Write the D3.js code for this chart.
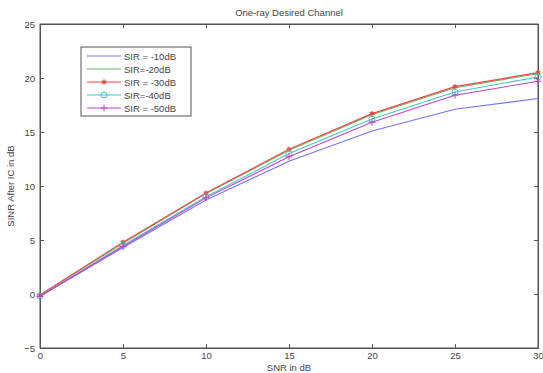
<!DOCTYPE html>
<html>
<head>
<meta charset="utf-8">
<script src="https://cdn.jsdelivr.net/npm/d3@7"></script>
<style>
  body { margin: 0; background: #fff; }
  text { font-family: "Liberation Sans", Arial, sans-serif; fill: #444; }
</style>
</head>
<body>
<div class="result"></div>
<script>
// Data
const snr = [0, 5, 10, 15, 20, 25, 30];
const sir10 = [-0.2, 4.3, 8.7, 12.3, 15.1, 17.1, 18.1];
const sir20 = [-0.1, 4.7, 9.3, 13.3, 16.6, 19.1, 20.4];
const sir30 = [-0.1, 4.8, 9.35, 13.4, 16.7, 19.2, 20.5];
const sir40 = [-0.2, 4.5, 9.0, 13.0, 16.2, 18.7, 20.1];
const sir50 = [-0.2, 4.4, 8.9, 12.7, 15.9, 18.4, 19.7];
const seriesNames = ['SIR = -10dB', 'SIR=-20dB', 'SIR = -30dB', 'SIR=-40dB', 'SIR = -50dB'];
const xTicks = [0, 5, 10, 15, 20, 25, 30];
const yTicks = [-5, 0, 5, 10, 15, 20, 25];

const series = [
  { name: seriesNames[0], values: sir10, color: '#7676ee', marker: 'none' },
  { name: seriesNames[1], values: sir20, color: '#62b862', marker: 'none' },
  { name: seriesNames[2], values: sir30, color: '#f04848', marker: 'star' },
  { name: seriesNames[3], values: sir40, color: '#44c6c6', marker: 'circle' },
  { name: seriesNames[4], values: sir50, color: '#c044c8', marker: 'plus' }
];

// Width and height
const w = 543;
const h = 373;
const padL = 40, padR = 538, padT = 24, padB = 348;

const xScale = d3.scaleLinear().domain([0, 30]).range([padL, padR]);
const yScale = d3.scaleLinear().domain([-5, 25]).range([padB, padT]);

const svg = d3.select('.result')
  .append('svg')
  .attr('width', w)
  .attr('height', h);

// Axes (ticks inward)
const xAxis = d3.axisBottom(xScale).tickValues(xTicks).tickSize(-4).tickPadding(4);
const yAxis = d3.axisLeft(yScale).tickValues(yTicks).tickSize(-4).tickPadding(5);

svg.append('g')
  .attr('transform', 'translate(0,' + padB + ')')
  .call(xAxis);
svg.append('g')
  .attr('transform', 'translate(' + padL + ',0)')
  .call(yAxis);
// mirrored ticks on top/right
svg.append('g')
  .attr('transform', 'translate(0,' + padT + ')')
  .call(d3.axisTop(xScale).tickValues(xTicks).tickSize(-4).tickFormat(''));
svg.append('g')
  .attr('transform', 'translate(' + padR + ',0)')
  .call(d3.axisRight(yScale).tickValues(yTicks).tickSize(-4).tickFormat(''));

svg.selectAll('.domain').attr('stroke', '#555');
svg.selectAll('.tick line').attr('stroke', '#555');
svg.selectAll('.tick text').style('font-size', '9.5px').attr('fill', '#444');

// Frame
svg.append('rect')
  .attr('x', padL).attr('y', padT)
  .attr('width', padR - padL).attr('height', padB - padT)
  .attr('fill', 'none').attr('stroke', '#555').attr('stroke-width', 1);

// Lines
const line = d3.line()
  .x(function (d, i) { return xScale(snr[i]); })
  .y(function (d) { return yScale(d); });

function drawMarker(g, type, x, y, color) {
  if (type === 'star') {
    g.append('path').attr('d', d3.symbol(d3.symbolAsterisk, 20)()).attr('transform', 'translate(' + x + ',' + y + ')')
      .attr('stroke', color).attr('stroke-width', 1.2).attr('fill', 'none');
    g.append('circle').attr('cx', x).attr('cy', y).attr('r', 1.6).attr('fill', color);
  } else if (type === 'circle') {
    g.append('circle').attr('cx', x).attr('cy', y).attr('r', 3)
      .attr('stroke', color).attr('fill', 'none');
  } else if (type === 'plus') {
    g.append('path').attr('d', 'M' + (x - 3.5) + ',' + y + 'H' + (x + 3.5) + 'M' + x + ',' + (y - 3.5) + 'V' + (y + 3.5))
      .attr('stroke', color).attr('fill', 'none');
  }
}

series.forEach(function (s) {
  svg.append('path')
    .datum(s.values)
    .attr('d', line)
    .attr('fill', 'none')
    .attr('stroke', s.color)
    .attr('stroke-width', 1.1);
  const g = svg.append('g');
  s.values.forEach(function (v, i) {
    drawMarker(g, s.marker, xScale(snr[i]), yScale(v), s.color);
  });
});

// Legend
const lg = svg.append('g');
lg.append('rect')
  .attr('x', 81).attr('y', 47).attr('width', 110).attr('height', 69)
  .attr('fill', '#fff').attr('stroke', '#555');
series.forEach(function (s, i) {
  const y = 56 + i * 13;
  lg.append('line').attr('x1', 87).attr('x2', 121).attr('y1', y).attr('y2', y)
    .attr('stroke', s.color).attr('stroke-width', 1.1);
  drawMarker(lg, s.marker, 104, y, s.color);
  lg.append('text').attr('x', 124).attr('y', y + 3.5)
    .style('font-size', '9.5px').text(s.name);
});

// Title and axis labels
svg.append('text').attr('x', (padL + padR) / 2).attr('y', 16)
  .attr('text-anchor', 'middle').style('font-size', '9.5px').text('One-ray Desired Channel');
svg.append('text').attr('x', (padL + padR) / 2).attr('y', 371)
  .attr('text-anchor', 'middle').style('font-size', '9.5px').text('SNR in dB');
svg.append('text')
  .attr('transform', 'translate(14,' + (padT + padB) / 2 + ') rotate(-90)')
  .attr('text-anchor', 'middle').style('font-size', '9.5px').text('SINR After IC in dB');
</script>
</body>
</html>
